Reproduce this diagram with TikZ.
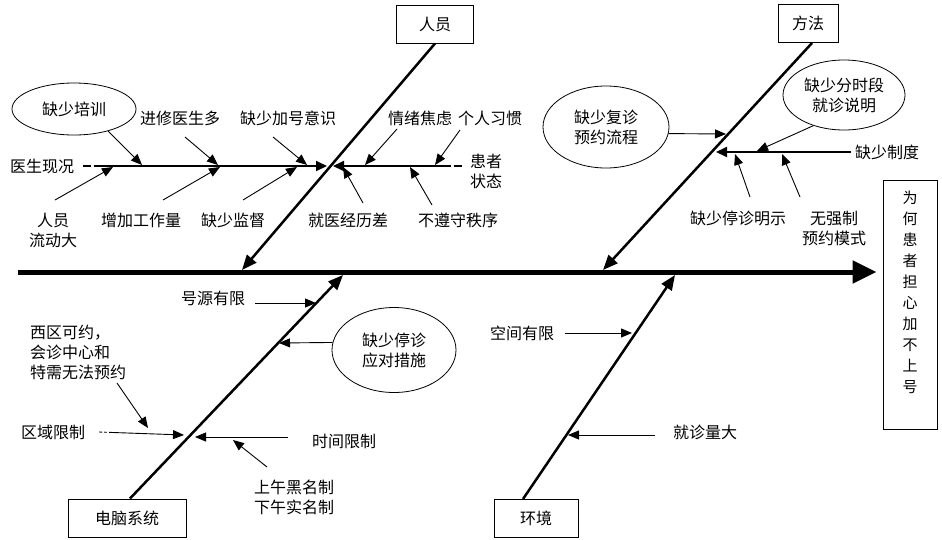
\documentclass[tikz,border=0pt]{standalone}
\usepackage{fontspec}
\newfontfamily\cjk{Noto Sans CJK SC}
\usetikzlibrary{arrows.meta,shapes.geometric}

\begin{document}
\begin{tikzpicture}[x=1pt,y=-1pt,
        every node/.style={font=\cjk\fontsize{16}{20}\selectfont},
        catbox/.style={draw,line width=1pt,minimum height=38pt,inner sep=0pt},
        bubble/.style={draw,ellipse,line width=0.8pt,inner sep=0pt,align=center},
        txt/.style={align=center,inner sep=0pt},
        cause/.style={line width=0.9pt,-{Triangle[length=11pt,width=9pt]}},
        branch/.style={line width=2pt,-{Triangle[length=11pt,width=10pt]}},
        bone/.style={line width=2.5pt,-{Triangle[length=15pt,width=12pt]}}]
        \useasboundingbox (0,0) rectangle (942,539);
        % head and spine
        \node[draw,line width=1pt,minimum width=54pt,minimum height=249pt] (effect) at (910,304.5) {};
        \node[txt,font=\cjk\fontsize{15}{21}\selectfont] (effecttxt) at (910,292) {为\\何\\患\\者\\担\\心\\加\\不\\上\\号};
        \coordinate (spine0) at (18,272);
        \draw[line width=5pt,-{Triangle[length=24pt,width=22pt]},shorten >=6pt] (spine0) -- (spine0 -| effect.west);
        % category boxes and bones
        \node[catbox,minimum width=77pt] (renyuan) at (435,24) {人员};
        \node[catbox,minimum width=60pt] (fangfa) at (808,23.5) {方法};
        \node[catbox,minimum width=118pt] (diannao) at (127,518) {电脑系统};
        \node[catbox,minimum width=84pt] (huanjing) at (536,518.5) {环境};
        \coordinate (renyuan1) at (242,270);
        \coordinate (fangfa1) at (603,270);
        \coordinate (diannao1) at (343,275);
        \coordinate (huanjing1) at (675,275);
        \draw[bone] (renyuan.south) -- (renyuan1);
        \draw[bone] ([xshift=4pt]fangfa.south) -- (fangfa1);
        \draw[bone] ([xshift=3pt]diannao.north) -- (diannao1);
        \draw[bone] ([xshift=-13pt]huanjing.north) -- (huanjing1);

        % 人员
        \node[txt] (xianzhuang) at (42,166) {医生现况};
        \node[txt] (huanzhe) at (486,171) {患者\\状态};
        \coordinate (xianzhuang1) at (327,166);
        \coordinate (huanzhe0) at (462,166);
        \coordinate (huanzhe1) at (333,166);
        \draw[branch,dash pattern=on 8pt off 3pt on 400pt] ([xshift=9pt]xianzhuang.east) -- (xianzhuang1);
        \draw[branch,dash pattern=on 8pt off 3pt on 400pt] (huanzhe0) -- (huanzhe1);
        \node[bubble,minimum width=124pt,minimum height=52pt] (peixun) at (74,109) {缺少培训};
        \node[txt] (jinxiu) at (180,118) {进修医生多};
        \node[txt] (jiahao) at (288,118) {缺少加号意识};
        \node[txt] (jiaolv) at (420,118) {情绪焦虑};
        \node[txt] (xiguan) at (490,118) {个人习惯};
        \node[txt] (liudong) at (53,230) {人员\\流动大};
        \node[txt] (gongzuo) at (141,220) {增加工作量};
        \node[txt] (jiandu) at (233,220) {缺少监督};
        \node[txt] (jingli) at (348,220) {就医经历差};
        \node[txt] (zhixu) at (458,220) {不遵守秩序};
        \coordinate (peixun1) at (142,165);
        \coordinate (jinxiu0) at (185,137);   \coordinate (jinxiu1) at (218,165);
        \coordinate (jiahao0) at (273,137);   \coordinate (jiahao1) at (307,165);
        \coordinate (jiaolv0) at (397,129);   \coordinate (jiaolv1) at (365,165);
        \coordinate (xiguan0) at (460,130);   \coordinate (xiguan1) at (435,165);
        \coordinate (liudong0) at (55,200);   \coordinate (liudong1) at (113,167);
        \coordinate (gongzuo0) at (163,200);  \coordinate (gongzuo1) at (220,167);
        \coordinate (jiandu0) at (243,200);   \coordinate (jiandu1) at (297,167);
        \coordinate (jingli0) at (363,203);   \coordinate (jingli1) at (343,167);
        \coordinate (zhixu0) at (432,205);    \coordinate (zhixu1) at (410,167);
        \draw[cause] (peixun.-33) -- (peixun1);
        \draw[cause] (jinxiu0) -- (jinxiu1);
        \draw[cause] (jiahao0) -- (jiahao1);
        \draw[cause] (jiaolv0) -- (jiaolv1);
        \draw[cause] (xiguan0) -- (xiguan1);
        \draw[cause] (liudong0) -- (liudong1);
        \draw[cause] (gongzuo0) -- (gongzuo1);
        \draw[cause] (jiandu0) -- (jiandu1);
        \draw[cause] (jingli0) -- (jingli1);
        \draw[cause] (zhixu0) -- (zhixu1);

        % 方法
        \node[bubble,minimum width=126pt,minimum height=82pt] (fuzhen) at (606,127) {缺少复诊\\预约流程};
        \node[bubble,minimum width=122pt,minimum height=70pt] (fenshi) at (844,95) {缺少分时段\\就诊说明};
        \node[txt] (zhidu) at (887,152) {缺少制度};
        \node[txt] (mingshi) at (738,218) {缺少停诊明示};
        \node[txt] (qiangzhi) at (834,228) {无强制\\预约模式};
        \coordinate (zhidu1) at (716,152);
        \draw[branch,shorten <=4pt] (zhidu.west) -- (zhidu1);
        \coordinate (fuzhen1) at (726,134);
        \coordinate (fenshi1) at (757,151);
        \coordinate (mingshi0) at (750,197);  \coordinate (mingshi1) at (735,154);
        \coordinate (qiangzhi0) at (800,197); \coordinate (qiangzhi1) at (782,154);
        \draw[cause] (fuzhen.-6) -- (fuzhen1);
        \draw[cause] (fenshi.-135) -- (fenshi1);
        \draw[cause] (mingshi0) -- (mingshi1);
        \draw[cause] (qiangzhi0) -- (qiangzhi1);

        % 电脑系统
        \node[txt] (haoyuan) at (213,298) {号源有限};
        \node[bubble,minimum width=124pt,minimum height=85pt] (yingdui) at (394,350) {缺少停诊\\应对措施};
        \node[txt,align=left,anchor=west] (xiqu) at (30,352) {西区可约，\\会诊中心和\\特需无法预约};
        \node[txt] (quyu) at (53,432) {区域限制};
        \node[txt] (shijian) at (344,441) {时间限制};
        \node[txt] (shangwu) at (294,497) {上午黑名制\\下午实名制};
        \coordinate (haoyuan0) at (255,303);  \coordinate (haoyuan1) at (316,303);
        \coordinate (yingdui1) at (279,343);
        \coordinate (xiqu0) at (117,383);     \coordinate (xiqu1) at (148,428);
        \coordinate (quyu1) at (184,435);
        \coordinate (shijian0) at (288,437);  \coordinate (shijian1) at (195,437);
        \coordinate (shangwu0) at (267,467);  \coordinate (shangwu1) at (233,440);
        \draw[cause] (haoyuan0) -- (haoyuan1);
        \draw[cause] (yingdui.173) -- (yingdui1);
        \draw[cause] (xiqu0) -- (xiqu1);
        \draw[cause,dash pattern=on 3pt off 2pt on 3pt off 2pt on 400pt] ([xshift=14pt]quyu.east) -- (quyu1);
        \draw[cause] (shijian0) -- (shijian1);
        \draw[cause] (shangwu0) -- (shangwu1);

        % 环境
        \node[txt] (kongjian) at (522,333) {空间有限};
        \node[txt] (liangda) at (705,432) {就诊量大};
        \coordinate (kongjian0) at (565,333); \coordinate (kongjian1) at (632,333);
        \coordinate (liangda0) at (655,435);  \coordinate (liangda1) at (568,435);
        \draw[cause] (kongjian0) -- (kongjian1);
        \draw[cause] (liangda0) -- (liangda1);
    \end{tikzpicture}
\end{document}
